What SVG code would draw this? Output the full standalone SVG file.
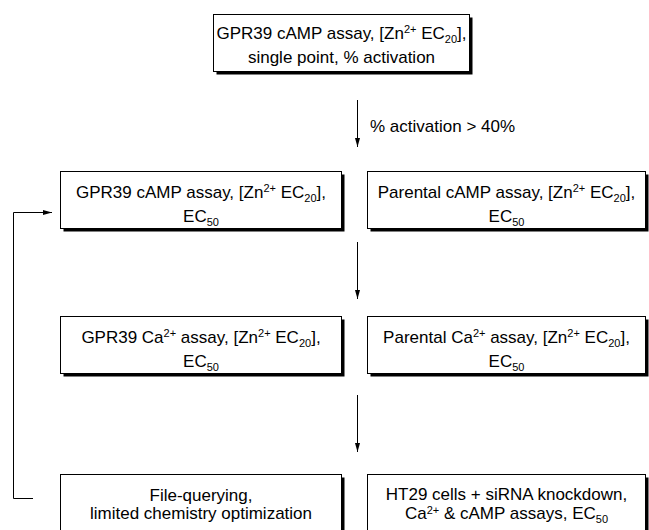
<svg xmlns="http://www.w3.org/2000/svg" width="649" height="530" viewBox="0 0 649 530">
<defs>
<marker id="ah" viewBox="0 0 9 5" refX="9" refY="2.5" markerWidth="9" markerHeight="5" markerUnits="userSpaceOnUse" orient="auto">
<path d="M0,0 L9,2.5 L0,5 z" fill="#000"/>
</marker>
</defs>
<style>
.box{fill:#fff;stroke:#000;stroke-width:1}
.sh{fill:#000}
text{font-family:"Liberation Sans",Arial,sans-serif;font-size:17px;fill:#000}
.m{text-anchor:middle}
.s{font-size:11px}
.c{fill:none;stroke:#000;stroke-width:1}
</style>
<rect width="649" height="530" fill="#fff"/>

<g id="top">
<rect class="sh" x="216.5" y="17.5" width="256" height="57"/>
<rect class="box" x="213.5" y="14.5" width="256" height="57"/>
<text class="m" x="341.5" y="39">GPR39 cAMP assay, [Zn<tspan class="s" dy="-6">2+</tspan><tspan dy="6"> EC</tspan><tspan class="s" dy="4">20</tspan><tspan dy="-4">],</tspan></text>
<text class="m" x="341.5" y="63">single point, % activation</text>
</g>

<g id="gpr39_camp">
<rect class="sh" x="63.5" y="174.5" width="281" height="57"/>
<rect class="box" x="60.5" y="171.5" width="281" height="57"/>
<text class="m" x="201" y="198">GPR39 cAMP assay, [Zn<tspan class="s" dy="-6">2+</tspan><tspan dy="6"> EC</tspan><tspan class="s" dy="4">20</tspan><tspan dy="-4">],</tspan></text>
<text class="m" x="201" y="222">EC<tspan class="s" dy="4">50</tspan></text>
</g>

<g id="parental_camp">
<rect class="sh" x="370.5" y="174.5" width="278" height="57"/>
<rect class="box" x="367.5" y="171.5" width="278" height="57"/>
<text class="m" x="506.5" y="198">Parental cAMP assay, [Zn<tspan class="s" dy="-6">2+</tspan><tspan dy="6"> EC</tspan><tspan class="s" dy="4">20</tspan><tspan dy="-4">],</tspan></text>
<text class="m" x="506.5" y="222">EC<tspan class="s" dy="4">50</tspan></text>
</g>

<g id="gpr39_ca">
<rect class="sh" x="63.5" y="319.5" width="281" height="57"/>
<rect class="box" x="60.5" y="316.5" width="281" height="57"/>
<text class="m" x="201" y="343">GPR39 Ca<tspan class="s" dy="-6">2+</tspan><tspan dy="6"> assay, [Zn</tspan><tspan class="s" dy="-6">2+</tspan><tspan dy="6"> EC</tspan><tspan class="s" dy="4">20</tspan><tspan dy="-4">],</tspan></text>
<text class="m" x="201" y="367">EC<tspan class="s" dy="4">50</tspan></text>
</g>

<g id="parental_ca">
<rect class="sh" x="370.5" y="319.5" width="278" height="57"/>
<rect class="box" x="367.5" y="316.5" width="278" height="57"/>
<text class="m" x="506.5" y="343">Parental Ca<tspan class="s" dy="-6">2+</tspan><tspan dy="6"> assay, [Zn</tspan><tspan class="s" dy="-6">2+</tspan><tspan dy="6"> EC</tspan><tspan class="s" dy="4">20</tspan><tspan dy="-4">],</tspan></text>
<text class="m" x="506.5" y="367">EC<tspan class="s" dy="4">50</tspan></text>
</g>

<g id="file_querying">
<rect class="sh" x="63.5" y="477.5" width="281" height="60"/>
<rect class="box" x="60.5" y="474.5" width="281" height="60"/>
<text class="m" x="201" y="501">File-querying,</text>
<text class="m" x="201" y="519">limited chemistry optimization</text>
</g>

<g id="ht29">
<rect class="sh" x="370.5" y="477.5" width="278" height="60"/>
<rect class="box" x="367.5" y="474.5" width="278" height="60"/>
<text class="m" x="506.5" y="500">HT29 cells + siRNA knockdown,</text>
<text class="m" x="506.5" y="519">Ca<tspan class="s" dy="-5">2+</tspan><tspan dy="5"> &amp; cAMP assays, EC</tspan><tspan class="s" dy="4">50</tspan></text>
</g>

<g id="connectors">
<line class="c" x1="357.5" y1="100" x2="357.5" y2="147" marker-end="url(#ah)"/>
<text x="370" y="132">% activation &gt; 40%</text>
<line class="c" x1="357.5" y1="242" x2="357.5" y2="299" marker-end="url(#ah)"/>
<line class="c" x1="357.5" y1="395" x2="357.5" y2="452" marker-end="url(#ah)"/>
<polyline class="c" points="33,498.5 13.5,498.5 13.5,212.5 52,212.5" marker-end="url(#ah)"/>
</g>
</svg>
